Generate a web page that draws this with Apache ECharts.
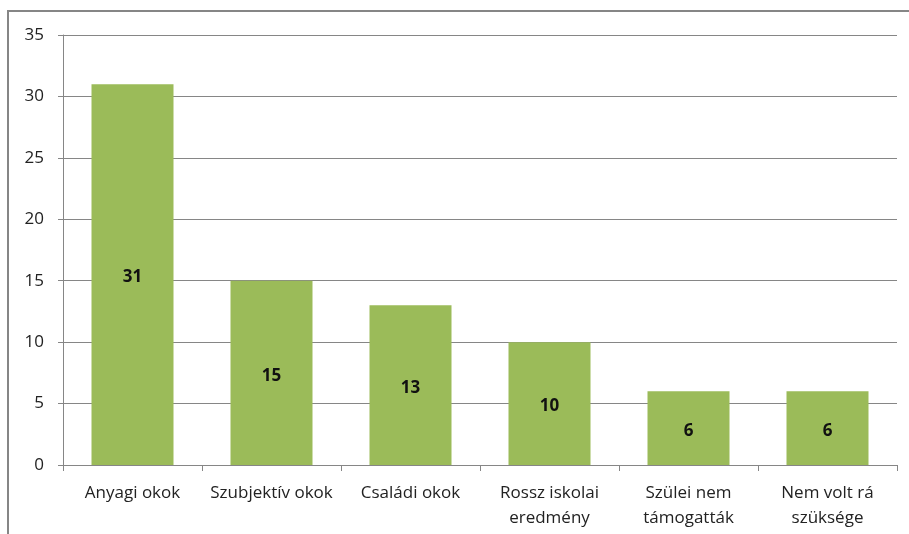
<!DOCTYPE html>
<html>
<head>
<meta charset="utf-8">
<script src="https://cdn.jsdelivr.net/npm/echarts@6/dist/echarts.min.js"></script>
<style>
    html, body { margin: 0; padding: 0; background: #fff; }
    #chart { width: 909px; height: 534px; }
</style>
</head>
<body>
<div id="chart"></div>
<script>
    let categories = ['Anyagi okok', 'Szubjektív okok', 'Családi okok', 'Rossz iskolai\neredmény', 'Szülei nem\ntámogatták', 'Nem volt rá\nszüksége']
    let values = [31, 15, 13, 10, 6, 6]
    let yTicks = [0, 5, 10, 15, 20, 25, 30, 35]

    let myChart = echarts.init(document.getElementById('chart'))
    let option = {
        animation: false,
        graphic: [{
            type: 'rect',
            shape: { x: 8, y: 11, width: 920, height: 540 },
            style: { fill: 'none', stroke: '#868686', lineWidth: 2 }
        }],
        grid: {
            left: 63,
            right: 12,
            top: 35,
            bottom: 69
        },
        xAxis: {
            type: 'category',
            data: categories,
            axisLine: { lineStyle: { color: '#868686' } },
            axisTick: { show: true, length: 6, lineStyle: { color: '#868686' } },
            axisLabel: {
                interval: 0,
                color: '#222',
                fontFamily: 'Open Sans',
                fontSize: 17,
                lineHeight: 25,
                margin: 16
            }
        },
        yAxis: {
            type: 'value',
            min: yTicks[0],
            max: yTicks[yTicks.length - 1],
            interval: 5,
            axisLine: { show: true, lineStyle: { color: '#868686' } },
            axisTick: { show: true, length: 5, lineStyle: { color: '#868686' } },
            axisLabel: {
                color: '#222',
                fontFamily: 'Open Sans',
                fontSize: 17,
                margin: 19
            },
            splitLine: { lineStyle: { color: '#868686' } }
        },
        series: [{
            type: 'bar',
            data: values,
            barWidth: 82,
            itemStyle: { color: '#9BBB59' },
            label: {
                show: true,
                position: 'inside',
                offset: [0, 3],
                color: '#111',
                fontWeight: 'bold',
                fontFamily: 'Open Sans',
                fontSize: 17
            }
        }]
    }
    myChart.setOption(option)
</script>
</body>
</html>
